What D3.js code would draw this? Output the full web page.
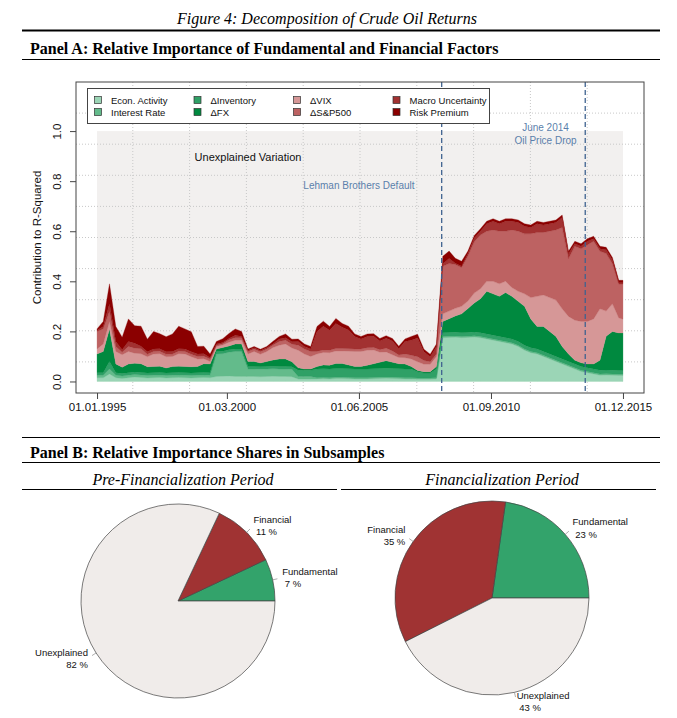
<!DOCTYPE html>
<html>
<head>
<meta charset="utf-8">
<script src="https://cdn.jsdelivr.net/npm/d3@7"></script>
<style>
  body { margin: 0; background: #fff; }
</style>
</head>
<body>
<div id="container"></div>
<script>
/* DATA: quarterly contributions to R-squared, Jan 1995 - Dec 2015 */
const seriesNames = ["Econ. Activity", "Interest Rate", "\u0394Inventory", "\u0394FX",
                     "\u0394VIX", "\u0394S&P500", "Macro Uncertainty", "Risk Premium"];
const seriesColors = ["#9bd5b6", "#63bb8b", "#2fa066", "#00893f",
                      "#d69797", "#bd6262", "#a23131", "#8b0000"];

const econActivity = [
  .015,.015,.03,.015,.012,.015,.018,.016,.014,.015,.016,.014,.015,.016,.015,.014,.015,.016,.015,
  .02,.021,.022,.02,.02,
  .02,.02,.019,.02,.021,.02,.02,.019,
  .01,.01,.01,
  .01,.011,.01,.012,.012,.011,.01,.01,.01,.011,.012,.013,.012,.011,.01,.01,.009,.009,.009,.01,
  .175,.176,.177,.175,.176,.178,.175,.17,.165,.16,.155,.15,.14,.125,.115,.11,.10,.09,.08,.07,
  .06,.05,.04,.035,.03,.025,.026,.025,.024,.024
];
const interestRate = [
  .01,.01,.02,.01,.01,.01,.01,.01,.01,.01,.01,.01,.01,.01,.01,.01,.01,.01,.01,
  .09,.09,.095,.10,.10,
  .03,.03,.03,.03,.03,.03,.03,.03,
  .01,.01,.01,
  .005,.005,.005,.005,.005,.005,.005,.005,.005,.005,.005,.005,.005,.005,.005,.005,.005,.005,.005,.005,
  .005,.005,.005,.005,.005,.005,.005,.005,.005,.005,.005,.005,.005,.005,.005,.005,.005,.005,.005,.005,
  .005,.005,.005,.005,.005,.005,.005,.005,.005,.005
];
const dInventory = [
  .01,.01,.03,.01,.01,.01,.01,.01,.01,.01,.01,.01,.01,.01,.01,.01,.01,.01,.01,
  .01,.01,.01,.01,.01,
  .01,.01,.01,.01,.01,.01,.01,.01,
  .025,.025,.025,
  .035,.035,.035,.035,.035,.035,.035,.035,.035,.035,.035,.035,.035,.035,.035,.035,.025,.02,.02,.035,
  .015,.015,.015,.015,.015,.015,.015,.015,.015,.015,.015,.015,.015,.015,.015,.015,.015,.015,.015,.015,
  .015,.015,.015,.015,.015,.015,.015,.015,.015,.015
];
const dFX = [
  .075,.085,.13,.035,.025,.035,.035,.035,.025,.025,.025,.02,.025,.025,.025,.025,.025,.035,.035,
  .01,.015,.015,.02,.02,
  .02,.02,.015,.02,.025,.03,.03,.02,
  .01,.005,.005,
  .01,.015,.015,.02,.02,.015,.01,.01,.015,.02,.025,.03,.025,.02,.02,.01,.005,.005,.005,.01,
  .045,.055,.065,.075,.095,.115,.135,.17,.165,.16,.18,.17,.16,.155,.115,.09,.10,.09,.08,.05,
  .03,.015,.015,.015,.02,.04,.135,.155,.15,.15
];
const dVIX = [
  .02,.03,.03,.05,.05,.05,.04,.04,.04,.05,.05,.045,.04,.05,.05,.04,.03,.02,.01,
  .01,.01,.015,.015,.015,
  .03,.04,.035,.04,.05,.055,.06,.055,
  .07,.06,.05,
  .05,.05,.05,.05,.05,.055,.06,.06,.06,.055,.04,.035,.03,.025,.025,.03,.035,.03,.03,.04,
  .03,.03,.03,.03,.03,.04,.04,.04,.05,.05,.045,.035,.04,.05,.085,.12,.125,.135,.145,.15,
  .15,.16,.165,.17,.18,.205,.10,.11,.06,.055
];
const dSP500 = [
  .07,.06,.04,.02,.01,.02,.02,.02,.01,.01,.01,.01,.01,.01,.01,.01,.01,.01,.01,
  .005,.005,.01,.01,.01,
  .01,.01,.01,.01,.01,.015,.015,.015,
  .02,.02,.02,
  .01,.01,.01,.01,.01,.01,.01,.01,.01,.01,.01,.015,.015,.01,.015,.015,.02,.015,.01,.01,
  .19,.19,.175,.155,.18,.205,.215,.20,.205,.21,.20,.23,.24,.24,.255,.255,.25,.265,.28,.325,
  .23,.295,.29,.305,.31,.23,.23,.16,.135,.14
];
const macroUncertainty = [
  .005,.01,.03,.02,.01,.02,.02,.01,.01,.01,.01,.01,.01,.01,.01,.01,.01,.01,.005,
  .005,.005,.005,.01,.005,
  .005,.005,.005,.005,.005,.01,.01,.01,
  .015,.01,.01,
  .08,.095,.08,.10,.085,.075,.05,.04,.045,.045,.035,.04,.04,.025,.05,.06,.075,.035,.02,.03,
  .01,.02,.005,.005,.01,.015,.015,.03,.035,.03,.04,.035,.035,.03,.025,.035,.03,.03,.03,.04,
  .02,.01,.01,.015,.01,.01,.015,.015,.005,.005
];
const riskPremium = [
  .005,.02,.08,.06,.05,.09,.07,.08,.05,.07,.06,.06,.07,.09,.08,.08,.03,.03,.015,
  .01,.015,.02,.025,.02,
  .005,.005,.005,.005,.01,.01,.015,.01,
  .01,.01,.01,
  .02,.02,.015,.02,.015,.015,.01,.01,.01,.01,.01,.01,.01,.01,.01,.015,.015,.01,.01,.01,
  .03,.03,.02,.02,.01,.01,.01,.01,.01,.01,.01,.01,.01,.01,.01,.01,.01,.01,.01,.01,
  .01,.01,.01,.01,.01,.01,.01,.01,.01,.01
];

// quarterly observations plus the last one in December 2015
const dates = d3.timeMonth.every(3).range(new Date(1995, 0, 1), new Date(2015, 11, 1))
    .concat([new Date(2015, 11, 1)]);
const xTickLabels = ["01.01.1995", "01.03.2000", "01.06.2005", "01.09.2010", "01.12.2015"];
const yTicks = [0, 0.2, 0.4, 0.6, 0.8, 1.0];
const events = [
  {date: "15.09.2008", lines: ["Lehman Brothers Default"], labelDate: "01.06.2005", labelY: 0.77},
  {date: "01.06.2014", lines: ["June 2014", "Oil Price Drop"], labelDate: "01.11.2012", labelY: 1.0}
];

const pieNames = ["Fundamental", "Financial", "Unexplained"];
const pieColors = ["#33a36b", "#a03333", "#f0ecea"];
const preShares = [7, 11, 82];
const postShares = [23, 35, 43];

/* LAYOUT */
const W = 677, H = 718;
const plot = {left: 76, right: 644, top: 82, bottom: 393};
const serif = "'Liberation Serif', 'Times New Roman', serif";
const parseD = d3.timeParse("%d.%m.%Y");

const svg = d3.select("#container").append("svg")
    .attr("width", W)
    .attr("height", H)
    .style("font-family", "'Liberation Sans', Arial, sans-serif");

svg.append("rect").attr("width", W).attr("height", H).attr("fill", "#fff");

// headings
svg.append("text")
    .attr("x", 327).attr("y", 24)
    .attr("text-anchor", "middle")
    .style("font-family", serif).style("font-style", "italic").style("font-size", "16px")
    .text("Figure 4: Decomposition of Crude Oil Returns");
svg.append("line").attr("x1", 22).attr("x2", 660).attr("y1", 30.5).attr("y2", 30.5)
    .attr("stroke", "#000").attr("stroke-width", 2);
svg.append("text")
    .attr("x", 30).attr("y", 54)
    .style("font-family", serif).style("font-weight", "bold").style("font-size", "16px")
    .text("Panel A: Relative Importance of Fundamental and Financial Factors");
svg.append("line").attr("x1", 22).attr("x2", 660).attr("y1", 59.5).attr("y2", 59.5)
    .attr("stroke", "#000").attr("stroke-width", 1);

/* PANEL A */
const t0 = dates[0], t1 = dates[dates.length - 1];
const span = t1 - t0;
const xScale = d3.scaleTime()
    .domain([new Date(+t0 - span * 0.04), new Date(+t1 + span * 0.04)])
    .range([plot.left, plot.right]);
const yScale = d3.scaleLinear()
    .domain([-0.046, 1.15 + 0.046])
    .range([plot.bottom, plot.top]);

// unexplained variation background
svg.append("rect")
    .attr("x", xScale(t0))
    .attr("y", yScale(1))
    .attr("width", xScale(t1) - xScale(t0))
    .attr("height", yScale(0) - yScale(1))
    .attr("fill", "#f2f0ef");

// grid, 10 x 10
const grid = svg.append("g").attr("stroke", "#c8c8c8").attr("stroke-dasharray", "1,2");
d3.range(1, 10).forEach(i => {
  const gx = plot.left + (plot.right - plot.left) * i / 10;
  const gy = plot.top + (plot.bottom - plot.top) * i / 10;
  grid.append("line").attr("x1", gx).attr("x2", gx).attr("y1", plot.top).attr("y2", plot.bottom);
  grid.append("line").attr("x1", plot.left).attr("x2", plot.right).attr("y1", gy).attr("y2", gy);
});

// stacked areas
const keys = seriesNames;
const seriesArrays = [econActivity, interestRate, dInventory, dFX, dVIX, dSP500, macroUncertainty, riskPremium];
const table = dates.map((d, i) => {
  const row = {date: d};
  keys.forEach((k, j) => { row[k] = seriesArrays[j][i]; });
  return row;
});
const stacked = d3.stack().keys(keys)(table);
const area = d3.area()
    .x(d => xScale(d.data.date))
    .y0(d => yScale(d[0]))
    .y1(d => yScale(d[1]));
svg.append("g").selectAll("path")
  .data(stacked)
  .join("path")
    .attr("d", area)
    .attr("fill", (d, i) => seriesColors[i])
    .attr("stroke", (d, i) => seriesColors[i])
    .attr("stroke-width", 0.3);

svg.append("text")
    .attr("x", 248).attr("y", 161)
    .attr("text-anchor", "middle")
    .style("font-size", "11px")
    .attr("fill", "#111")
    .text("Unexplained Variation");

// event lines
events.forEach(ev => {
  const ex = xScale(parseD(ev.date));
  svg.append("line")
      .attr("x1", ex).attr("x2", ex)
      .attr("y1", plot.top).attr("y2", plot.bottom)
      .attr("stroke", "#3f6390").attr("stroke-width", 1.3)
      .attr("stroke-dasharray", "5,3");
  const t = svg.append("text")
      .attr("x", xScale(parseD(ev.labelDate)))
      .attr("y", yScale(ev.labelY))
      .attr("text-anchor", "middle")
      .style("font-size", "10px")
      .attr("fill", "#5b7fab");
  ev.lines.forEach((l, i) => {
    t.append("tspan").attr("x", xScale(parseD(ev.labelDate))).attr("dy", i === 0 ? 0 : 13).text(l);
  });
});

// axes
const xAxis = svg.append("g")
    .attr("transform", "translate(0," + plot.bottom + ")")
    .call(d3.axisBottom(xScale)
      .tickValues(xTickLabels.map(parseD))
      .tickFormat(d3.timeFormat("%d.%m.%Y"))
      .tickSize(6).tickPadding(4));
xAxis.select(".domain").remove();
xAxis.selectAll("text").style("font-size", "11.5px").attr("fill", "#111");
xAxis.selectAll("line").attr("stroke", "#444");

const yAxis = svg.append("g")
    .attr("transform", "translate(" + plot.left + ",0)")
    .call(d3.axisLeft(yScale)
      .tickValues(yTicks)
      .tickFormat(d3.format(".1f"))
      .tickSize(6));
yAxis.select(".domain").remove();
yAxis.selectAll("line").attr("stroke", "#444");
yAxis.selectAll("text")
    .attr("x", null).attr("dy", null)
    .attr("text-anchor", "middle")
    .attr("transform", "translate(-15,0) rotate(-90)")
    .style("font-size", "11.5px")
    .attr("fill", "#111");

svg.append("text")
    .attr("transform", "translate(41," + ((plot.top + plot.bottom) / 2) + ") rotate(-90)")
    .attr("text-anchor", "middle")
    .style("font-size", "11.5px")
    .attr("fill", "#111")
    .text("Contribution to R-Squared");

// frame
svg.append("rect")
    .attr("x", plot.left).attr("y", plot.top)
    .attr("width", plot.right - plot.left).attr("height", plot.bottom - plot.top)
    .attr("fill", "none").attr("stroke", "#444").attr("stroke-width", 1);

// legend
const legend = svg.append("g");
legend.append("rect")
    .attr("x", 87.5).attr("y", 88.5).attr("width", 402).attr("height", 35)
    .attr("fill", "#fff").attr("stroke", "#444").attr("stroke-width", 1);
seriesNames.forEach((name, i) => {
  const col = Math.floor(i / 2), row = i % 2;
  const lx = 98 + col * 99.5, ly = 100 + row * 12;
  legend.append("rect")
      .attr("x", lx - 3.5).attr("y", ly - 3.5).attr("width", 7).attr("height", 7)
      .attr("fill", seriesColors[i]).attr("stroke", "#333").attr("stroke-width", 0.7);
  legend.append("text")
      .attr("x", lx + 13).attr("y", ly + 3.5)
      .style("font-size", "9.5px")
      .attr("fill", "#111")
      .text(name);
});

/* PANEL B */
svg.append("line").attr("x1", 22).attr("x2", 660).attr("y1", 437.5).attr("y2", 437.5)
    .attr("stroke", "#000").attr("stroke-width", 1);
svg.append("text")
    .attr("x", 30).attr("y", 458)
    .style("font-family", serif).style("font-weight", "bold").style("font-size", "16px")
    .text("Panel B: Relative Importance Shares in Subsamples");
svg.append("line").attr("x1", 22).attr("x2", 660).attr("y1", 462.5).attr("y2", 462.5)
    .attr("stroke", "#000").attr("stroke-width", 1);

const pies = [
  {title: "Pre-Financialization Period", values: preShares, cx: 178, cy: 601, tx: 183, lx1: 22, lx2: 337},
  {title: "Financialization Period", values: postShares, cx: 492, cy: 598, tx: 502, lx1: 341, lx2: 656}
];
const r = 97;
const pieGen = d3.pie().sort(null).startAngle(Math.PI / 2).endAngle(Math.PI / 2 - 2 * Math.PI);
const arc = d3.arc().innerRadius(0).outerRadius(r);

pies.forEach(p => {
  svg.append("text")
      .attr("x", p.tx).attr("y", 485)
      .attr("text-anchor", "middle")
      .style("font-family", serif).style("font-style", "italic").style("font-size", "16px")
      .text(p.title);
  svg.append("line").attr("x1", p.lx1).attr("x2", p.lx2).attr("y1", 489.5).attr("y2", 489.5)
      .attr("stroke", "#000").attr("stroke-width", 1);

  const g = svg.append("g").attr("transform", "translate(" + p.cx + "," + p.cy + ")");
  const arcs = pieGen(p.values);
  g.selectAll("path")
    .data(arcs)
    .join("path")
      .attr("d", arc)
      .attr("fill", (d, i) => pieColors[i])
      .attr("stroke", "#444")
      .attr("stroke-width", 0.7);

  arcs.forEach((d, i) => {
    const a = (d.startAngle + d.endAngle) / 2;
    const sx = Math.sin(a), sy = -Math.cos(a);
    g.append("line")
        .attr("x1", r * sx).attr("y1", r * sy)
        .attr("x2", r * 1.05 * sx).attr("y2", r * 1.05 * sy)
        .attr("stroke", "#777").attr("stroke-width", 0.6);
    const px = r * 1.1 * sx, py = r * 1.1 * sy;
    const t = g.append("text")
        .attr("text-anchor", px >= 0 ? "start" : "end")
        .style("font-size", "9.5px")
        .attr("fill", "#111");
    t.append("tspan").attr("x", px).attr("y", py - 2.6).text(pieNames[i]);
    t.append("tspan").attr("x", px).attr("y", py + 9.6).text("\u00a0" + p.values[i] + " %");
  });
});
</script>
</body>
</html>
